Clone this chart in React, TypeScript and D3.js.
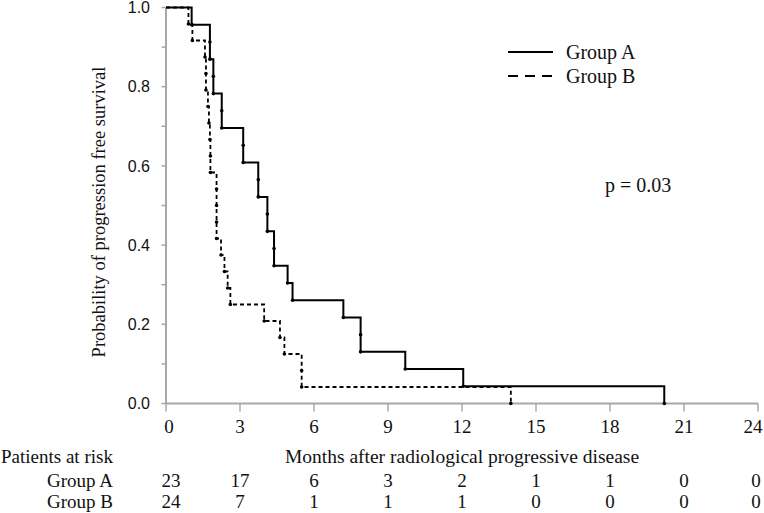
import React from "react";
import * as d3 from "d3";

// Event times (months) – each entry is one progression event
const groupATimes = [1.04, 1.78, 1.78, 1.92, 1.92, 2.26, 2.26, 3.13, 3.13, 3.74, 3.74, 4.11, 4.11, 4.38, 4.38, 4.93, 5.13, 7.19, 7.89, 7.89, 9.7, 12.05, 20.2];
const groupBTimes = [0.91, 1.07, 1.58, 1.62, 1.62, 1.7, 1.74, 1.78, 1.8, 1.8, 2.05, 2.05, 2.05, 2.05, 2.23, 2.37, 2.5, 2.61, 3.98, 4.62, 4.8, 5.5, 5.5, 13.98];

const xTicks = [0, 3, 6, 9, 12, 15, 18, 21, 24];
const yTicks = [0, 0.1, 0.2, 0.3, 0.4, 0.5, 0.6, 0.7, 0.8, 0.9, 1.0];
const yLabels = [0, 0.2, 0.4, 0.6, 0.8, 1.0];
const riskA = [23, 17, 6, 3, 2, 1, 1, 0, 0];
const riskB = [24, 7, 1, 1, 1, 0, 0, 0, 0];

const W = 764;
const H = 513;
const serif = "'Liberation Serif', 'Times New Roman', serif";
const sans = "'Liberation Sans', Arial, sans-serif";

function kmPoints(times: number[]) {
  const n = times.length;
  const pts: [number, number][] = [[0, 1]];
  times.forEach((t, i) => pts.push([t, (n - i - 1) / n]));
  return pts;
}

export default function App() {
  const x = d3.scaleLinear().domain([0, 24]).range([166, 758]);
  const y = d3.scaleLinear().domain([0, 1]).range([403.5, 7.5]);
  const line = d3
    .line<[number, number]>()
    .x((d) => x(d[0]))
    .y((d) => y(d[1]))
    .curve(d3.curveStepAfter);
  const ptsA = kmPoints(groupATimes);
  const ptsB = kmPoints(groupBTimes);
  const axisColor = "#a8a8a8";
  const labelX = (t: number, i: number) => Math.min(x(t) + (i === 0 ? 3 : 0), 753);

  return (
    <svg width={W} height={H} style={{ position: "absolute", left: 0, top: 0, background: "#fff" }}>
      {/* axes */}
      <line x1={x(0)} x2={x(0)} y1={y(1)} y2={y(0)} stroke={axisColor} strokeWidth={2} />
      <line x1={x(0)} x2={x(24)} y1={y(0)} y2={y(0)} stroke={axisColor} strokeWidth={2} />
      {yTicks.map((t) => (
        <line key={"yt" + t} x1={x(0) - 4.5} x2={x(0)} y1={y(t)} y2={y(t)} stroke={axisColor} strokeWidth={1.5} />
      ))}
      {yLabels.map((t) => (
        <text key={"yl" + t} x={150} y={y(t)} dy="0.36em" textAnchor="end" fontFamily={sans} fontSize={16} fill="#111">
          {t.toFixed(1)}
        </text>
      ))}
      {xTicks.map((t, i) => (
        <g key={"xt" + t}>
          <line x1={x(t)} x2={x(t)} y1={y(0)} y2={y(0) + 8} stroke={axisColor} strokeWidth={1.5} />
          <text x={labelX(t, i)} y={433} textAnchor="middle" fontFamily={serif} fontSize={19} fill="#111">
            {t}
          </text>
        </g>
      ))}
      <text
        transform={`translate(104.5,212) rotate(-90)`}
        textAnchor="middle"
        fontFamily={serif}
        fontSize={18.5}
        fill="#111"
      >
        Probability of progression free survival
      </text>

      {/* curves */}
      <path d={line(ptsB) || ""} fill="none" stroke="#000" strokeWidth={1.8} strokeDasharray="4,3" />
      <path d={line(ptsA) || ""} fill="none" stroke="#000" strokeWidth={2} />
      {ptsA.slice(1).map((p, i) => (
        <circle key={"da" + i} cx={x(p[0])} cy={y(p[1])} r={1.8} fill="#000" />
      ))}
      {ptsB.slice(1).map((p, i) => (
        <circle key={"db" + i} cx={x(p[0])} cy={y(p[1])} r={1.8} fill="#000" />
      ))}

      {/* legend */}
      <line x1={508} x2={553} y1={52} y2={52} stroke="#000" strokeWidth={2} />
      <text x={566} y={59} fontFamily={serif} fontSize={20} fill="#111">Group A</text>
      <line x1={508} x2={553} y1={76} y2={76} stroke="#000" strokeWidth={2} strokeDasharray="10,7" />
      <text x={566} y={83} fontFamily={serif} fontSize={20} fill="#111">Group B</text>

      <text x={605} y={192} fontFamily={serif} fontSize={20} fill="#111">p = 0.03</text>

      {/* risk table */}
      <text x={1} y={463} fontFamily={serif} fontSize={19} fill="#111">Patients at risk</text>
      <text x={x(12)} y={463} textAnchor="middle" fontFamily={serif} fontSize={19.5} fill="#111">
        Months after radiological progressive disease
      </text>
      <text x={113} y={487} textAnchor="end" fontFamily={serif} fontSize={19} fill="#111">Group A</text>
      <text x={113} y={508} textAnchor="end" fontFamily={serif} fontSize={19} fill="#111">Group B</text>
      {riskA.map((v, i) => (
        <text key={"ra" + i} x={Math.min(x(xTicks[i]) + (i === 0 ? 5 : 0), 756)} y={487} textAnchor="middle" fontFamily={serif} fontSize={19} fill="#111">
          {v}
        </text>
      ))}
      {riskB.map((v, i) => (
        <text key={"rb" + i} x={Math.min(x(xTicks[i]) + (i === 0 ? 5 : 0), 756)} y={508} textAnchor="middle" fontFamily={serif} fontSize={19} fill="#111">
          {v}
        </text>
      ))}
    </svg>
  );
}
